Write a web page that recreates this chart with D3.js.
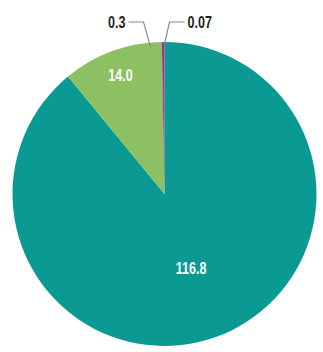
<!DOCTYPE html>
<html>
<head>
<meta charset="utf-8">
<script src="https://cdn.jsdelivr.net/npm/d3@7"></script>
<style>
  body { margin: 0; background: #fff; }
  text { font-family: "Liberation Sans", Arial, sans-serif; font-weight: bold; }
</style>
</head>
<body>
<svg id="chart" width="323" height="352"></svg>
<script>
const labels = ['116.8', '14.0', '0.3', '0.07']
const values = [116.8, 14.0, 0.3, 0.07]
const colors = ['#0b9a93', '#8cc063', '#a2348e', '#7a3b7a']

const width = 323, height = 352
const cx = 164.5, cy = 194, radius = 152
const squeeze = 0.74

const svg = d3.select('#chart')
const g = svg.append('g').attr('transform', 'translate(' + cx + ',' + cy + ')')

const pie = d3.pie().sort(null).value(d => d)
const arcs = pie(values)

const arc = d3.arc().innerRadius(0).outerRadius(radius)

g.selectAll('path')
  .data(arcs)
  .enter()
  .append('path')
  .attr('d', arc)
  .attr('fill', (d, i) => colors[i])

// labels inside the two big slices
const insideR = [79, 127]
g.selectAll('text.inside')
  .data(arcs.slice(0, 2))
  .enter()
  .append('text')
  .attr('class', 'inside')
  .attr('transform', (d, i) => {
    const a = d3.arc().innerRadius(insideR[i]).outerRadius(insideR[i])
    return 'translate(' + a.centroid(d) + ') scale(' + squeeze + ',1)'
  })
  .attr('text-anchor', 'middle')
  .attr('dy', '0.36em')
  .attr('fill', '#fff')
  .style('font-size', '17px')
  .text((d, i) => labels[i])

// leader lines for the tiny slices
const point = (angle, r) => [Math.sin(angle) * r, -Math.cos(angle) * r]
const small = [
  { i: 2, tip: point(arcs[2].startAngle - 0.075, 146), elbow: [-21, -172], end: [-36, -172], anchor: 'end' },
  { i: 3, tip: point(arcs[3].endAngle, 150), elbow: [5, -172], end: [20, -172], anchor: 'start' }
]

small.forEach(s => {
  g.append('path')
    .attr('d', d3.line()([s.tip, s.elbow, s.end]))
    .attr('fill', 'none')
    .attr('stroke', '#8a8a8a')
    .attr('stroke-width', 1.2)
  g.append('text')
    .attr('transform', 'translate(' + (s.end[0] + (s.anchor === 'end' ? -3 : 3)) + ',' + s.end[1] + ') scale(' + squeeze + ',1)')
    .attr('dy', '0.36em')
    .attr('text-anchor', s.anchor)
    .attr('fill', '#231f20')
    .style('font-size', '17px')
    .text(labels[s.i])
})
</script>
</body>
</html>
